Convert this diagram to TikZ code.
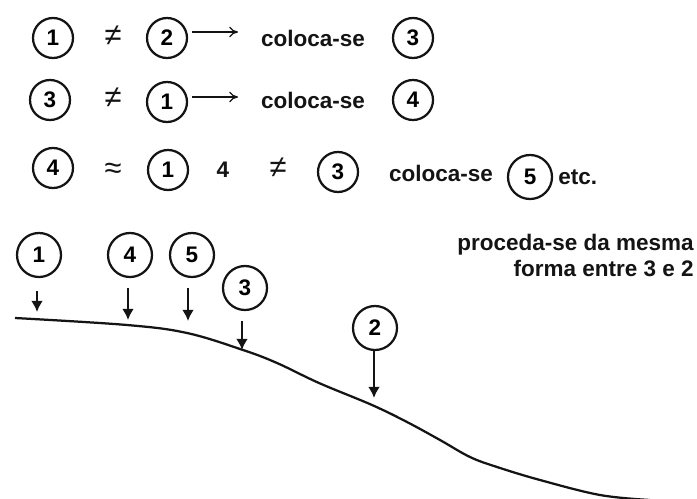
\documentclass[tikz,border=0pt]{standalone}
\usepackage{fontspec}
\setmainfont{Liberation Sans}
\usepackage{tikz}
\usetikzlibrary{arrows.meta, positioning, calc}
\definecolor{myink}{RGB}{20,20,20}
\tikzset{
  num/.style={circle, draw=myink, minimum size=1cm, inner sep=0pt,
    font=\fontsize{16}{16}\selectfont\bfseries, line width=1.6pt},
  bignum/.style={num, minimum size=1.1cm},
  word/.style={font=\fontsize{16}{18.5}\selectfont\bfseries, inner sep=0pt, text=myink},
  rel/.style={font=\fontsize{22}{22}\selectfont, inner sep=0pt, text=myink},
  thinarrow/.style={-{To[length=2.2mm,width=2.6mm]}, line width=0.9pt, color=myink},
  droparrow/.style={-{Latex[length=2.8mm,width=3mm]}, line width=1.5pt, color=myink},
  ground/.style={line width=1.6pt, color=myink}
}

\begin{document}
\begin{tikzpicture}[x=0.025cm, y=-0.025cm]
  \useasboundingbox (0,0) rectangle (697,499);
  % first rule
  \node[num] (a1) at (53,38) {1};
  \node[rel] (a1ne) at (113,36) {≠};
  \node[num] (a2) at (167,38) {2};
  \coordinate (a2end) at (238,32);
  \node[word] (a3w) at (313,38) {coloca-se};
  \node[num] (a3) at (413,38) {3};
  \draw[thinarrow, shorten <=3pt] (a2.east |- a2end) -- (a2end);
  % second rule
  \node[num] (b3) at (50,100) {3};
  \node[rel] (b3ne) at (113,98) {≠};
  \node[num] (b1) at (167,102) {1};
  \coordinate (b1end) at (238,97);
  \node[word] (b4w) at (313,100) {coloca-se};
  \node[num] (b4) at (413,100) {4};
  \draw[thinarrow, shorten <=3pt] (b1.east |- b1end) -- (b1end);
  % third rule
  \node[num] (c4) at (53,168) {4};
  \node[rel] (c4eq) at (113,171) {≈};
  \node[num] (c1) at (168,170) {1};
  \node[word] (c4n) at (223,170) {4};
  \node[rel] (c4ne) at (278,168) {≠};
  \node[num] (c3) at (338,172) {3};
  \node[word] (c5w) at (441,173) {coloca-se};
  \node[num, minimum size=1.1cm] (c5) at (530,177) {5};
  \node[word, anchor=west] (etc) at (558,177) {etc.};
  % profile with the points
  \node[bignum] (p1) at (39,255) {1};
  \node[bignum] (p4) at (130,255) {4};
  \node[bignum] (p5) at (192,255) {5};
  \node[bignum] (p3) at (245,288) {3};
  \node[bignum] (p2) at (375,328) {2};
  \coordinate (t1) at (37,312);
  \coordinate (t4) at (128,320);
  \coordinate (t5) at (188,321);
  \coordinate (t3) at (242,350);
  \coordinate (t2) at (374,398);
  \draw[droparrow, shorten <=9pt] (p1.south -| t1) -- (t1);
  \draw[droparrow, shorten <=7pt] (p4.south -| t4) -- (t4);
  \draw[droparrow, shorten <=7pt] (p5.south -| t5) -- (t5);
  \draw[droparrow, shorten <=7pt] (p3.south -| t3) -- (t3);
  \draw[droparrow] (p2.south -| t2) -- (t2);
  \draw[ground] plot[smooth, tension=0.6] coordinates {(15,318) (127,325) (187,333) (243,350) (277,363) (319,383) (372,405) (407,422) (440,440) (470,457) (497,467) (540,480) (600,495) (650,500)};
  \node[word, align=right, anchor=east] (note) at (694,255) {proceda-se da mesma\\forma entre 3 e 2};
\end{tikzpicture}
\end{document}
